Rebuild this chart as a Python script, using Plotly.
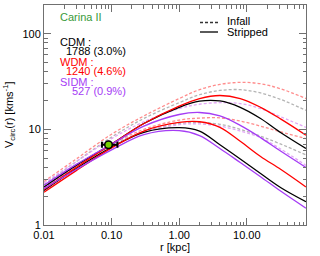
import plotly.graph_objects as go

# radius sample points [kpc]
r = [0.01, 0.03, 0.1, 0.3, 1, 2, 4, 8, 16, 32, 75]

# Infall (dashed) curves
wdm_infall_hi = [2.85, 4.9, 8.9, 13.8, 21.0, 26.0, 29.5, 31.0, 30.0, 26.5, 21.0]
wdm_infall_lo = [2.5, 4.2, 7.0, 10.0, 12.5, 13.1, 13.2, 12.2, 10.8, 9.4, 8.0]
cdm_infall_hi = [2.65, 4.6, 8.3, 13.0, 19.0, 23.0, 25.5, 26.0, 24.0, 20.5, 15.8]
cdm_infall_lo = [2.45, 4.1, 6.8, 9.5, 11.5, 11.8, 11.3, 10.0, 8.5, 7.0, 5.4]
sidm_infall_hi = [2.75, 4.6, 8.0, 12.0, 16.5, 18.3, 19.0, 18.6, 16.5, 13.5, 10.5]
sidm_infall_lo = [2.4, 4.0, 6.6, 9.3, 11.2, 11.4, 10.8, 9.6, 8.2, 6.2, 4.2]

# Stripped (solid) curves
wdm_strip_hi = [2.35, 4.0, 7.0, 11.5, 17.5, 21.0, 22.6, 21.0, 17.0, 12.8, 8.7]
wdm_strip_lo = [2.2, 3.7, 6.4, 9.6, 11.8, 12.0, 10.5, 7.5, 5.2, 3.8, 2.5]
cdm_strip_hi = [2.5, 4.2, 7.0, 11.5, 17.0, 19.7, 19.8, 17.0, 13.0, 9.2, 6.3]
cdm_strip_lo = [2.3, 3.9, 6.5, 9.3, 10.4, 9.6, 6.9, 4.9, 3.45, 2.45, 1.75]
sidm_strip_hi = [2.6, 4.3, 7.0, 10.8, 14.3, 15.0, 13.8, 11.0, 8.2, 5.9, 4.0]
sidm_strip_lo = [2.4, 3.8, 6.1, 8.8, 9.7, 8.6, 6.3, 4.5, 3.2, 2.25, 1.5]

# observed point
obs_r = [0.09]
obs_v = [6.9]
obs_r_minus = [0.018]
obs_r_plus = [0.032]
obs_v_err = [0.4]

x_ticks = [0.01, 0.1, 1, 10]
x_ticktext = ["0.01", "0.10", "1.00", "10.00"]
y_ticks = [1, 10, 100]
y_ticktext = ["1", "10", "100"]

BLACK, RED, PURPLE = "#000000", "#ff0000", "#a53cf5"
L_BLACK, L_RED, L_PURPLE = "#b4b4b4", "#ff8c8c", "#e3a6f5"

fig = go.Figure()
dashed = [
    (cdm_infall_hi, L_BLACK), (cdm_infall_lo, L_BLACK),
    (wdm_infall_hi, L_RED), (wdm_infall_lo, L_RED),
    (sidm_infall_hi, L_PURPLE), (sidm_infall_lo, L_PURPLE),
]
solid = [
    (cdm_strip_hi, BLACK), (cdm_strip_lo, BLACK),
    (wdm_strip_hi, RED), (wdm_strip_lo, RED),
    (sidm_strip_hi, PURPLE), (sidm_strip_lo, PURPLE),
]
for v, c in dashed:
    fig.add_trace(go.Scatter(x=r, y=v, mode="lines", showlegend=False,
                             line=dict(color=c, width=1.3, dash="3px,2px", shape="spline")))
for v, c in solid:
    fig.add_trace(go.Scatter(x=r, y=v, mode="lines", showlegend=False,
                             line=dict(color=c, width=1.3, shape="spline")))

fig.add_trace(go.Scatter(
    x=obs_r, y=obs_v, mode="markers", showlegend=False,
    marker=dict(color="#74d000", size=7.5, line=dict(color="black", width=1.5)),
    error_x=dict(type="data", symmetric=False, array=obs_r_plus, arrayminus=obs_r_minus,
                 color="black", thickness=2, width=3),
    error_y=dict(type="data", array=obs_v_err, color="black", thickness=2, width=0),
))

def minor_vals(lo, hi):
    out = []
    d = lo
    while d < hi:
        for k in range(2, 10):
            if k * d <= hi:
                out.append(k * d)
        d *= 10
    return out

axis_common = dict(showline=True, linecolor="#707070", linewidth=1, mirror="allticks",
                   ticks="inside", ticklen=7, tickcolor="#707070", showgrid=False,
                   zeroline=False, tickfont=dict(family="Liberation Sans", size=11, color="black"))

fig.update_xaxes(type="log", range=[-2, 1.876], tickvals=x_ticks, ticktext=x_ticktext,
                 minor=dict(tickvals=minor_vals(0.01, 75), ticks="inside", ticklen=3.5,
                            tickcolor="#707070", showgrid=False),
                 **axis_common)
fig.update_yaxes(type="log", range=[0, 2.30], tickvals=y_ticks, ticktext=y_ticktext,
                 minor=dict(tickvals=minor_vals(1, 200), ticks="inside", ticklen=3.5,
                            tickcolor="#707070", showgrid=False),
                 **axis_common)

F = "Liberation Sans"
def px(x):
    return (x - 44) / 262.0
def py(y):
    return (225 - y) / 220.0

ann = [
    ("Carina II", 58, 17.5, "left", "#3a9a3a"),
    ("CDM :", 58, 41.5, "left", BLACK),
    ("1788 (3.0%)", 128, 51, "right", BLACK),
    ("WDM :", 58, 61.5, "left", RED),
    ("1240 (4.6%)", 128, 71, "right", RED),
    ("SIDM :", 58, 81.5, "left", PURPLE),
    ("527 (0.9%)", 128, 91, "right", PURPLE),
    ("Infall", 225, 21.5, "left", BLACK),
    ("Stripped", 225, 31.5, "left", BLACK),
]
for t, x, y, a, c in ann:
    fig.add_annotation(text=t, x=px(x), y=py(y), xref="paper", yref="paper",
                       xanchor=a, yanchor="middle", showarrow=False,
                       font=dict(family=F, size=11, color=c))

fig.add_shape(type="line", xref="paper", yref="paper", x0=px(200), x1=px(218),
              y0=py(22.5), y1=py(22.5), line=dict(color="#333333", width=1.3, dash="3px,2px"))
fig.add_shape(type="line", xref="paper", yref="paper", x0=px(200), x1=px(218),
              y0=py(32), y1=py(32), line=dict(color="black", width=1.3))

fig.add_annotation(text="r [kpc]", x=0.5, y=py(246.5), xref="paper", yref="paper",
                   xanchor="center", yanchor="middle", showarrow=False,
                   font=dict(family=F, size=11, color="black"))
fig.add_annotation(text="V<sub>circ</sub>(r) [kms<sup>-1</sup>]", x=px(9), y=0.5,
                   xref="paper", yref="paper", xanchor="center", yanchor="middle",
                   textangle=-90, showarrow=False, font=dict(family=F, size=11, color="black"))

fig.update_layout(width=320, height=256, margin=dict(l=44, r=14, t=5, b=31),
                  paper_bgcolor="white", plot_bgcolor="white", showlegend=False)

fig.write_html("out.html", config={"displayModeBar": False},
               post_script="document.body.style.margin='0';document.body.style.overflow='hidden';")
